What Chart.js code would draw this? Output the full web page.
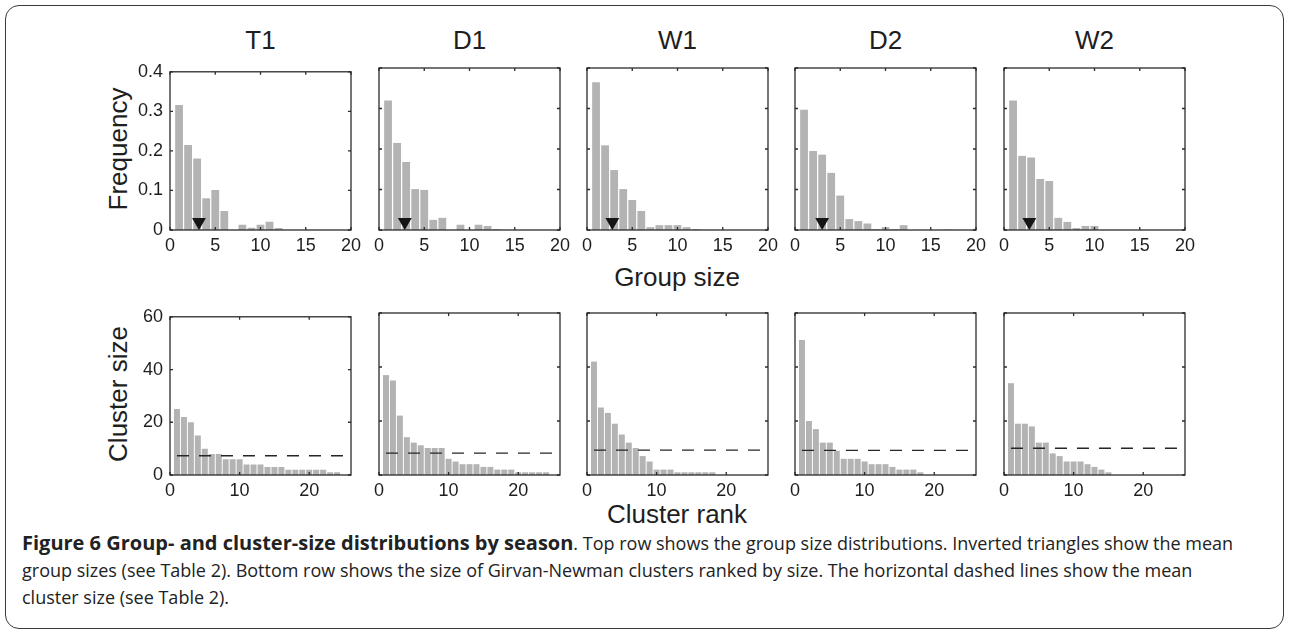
<!DOCTYPE html>
<html>
<head>
<meta charset="utf-8">
<script src="https://cdn.jsdelivr.net/npm/chart.js@4.4.1/dist/chart.umd.min.js"></script>
<style>
  body { margin: 0; background: #fff; }
  #fig { position: relative; width: 1289px; height: 634px; overflow: hidden;
         font-family: "Liberation Sans", Arial, sans-serif; color: #1e1e1e; }
  #frame { position: absolute; left: 5px; top: 5px; width: 1277px; height: 622px;
           border: 1.5px solid #3a3a3a; border-radius: 14px; }
  canvas { position: absolute; }
  .lbl { position: absolute; white-space: nowrap; font-size: 26px; transform: translate(-50%, -50%); }
  .rot { transform: translate(-50%, -50%) rotate(-90deg); }
  #caption { position: absolute; left: 22px; top: 529px; font-family: "Open Sans", sans-serif;
             font-size: 18px; line-height: 27px; color: #222; white-space: nowrap; }
  #caption b { font-size: 20px; }
</style>
</head>
<body>
<div id="fig">
  <div id="frame"></div>
  <div class="lbl rot" style="left:118px;top:149px">Frequency</div>
  <div class="lbl rot" style="left:118px;top:394px">Cluster size</div>
  <div class="lbl" style="left:677px;top:277px">Group size</div>
  <div class="lbl" style="left:677px;top:514px">Cluster rank</div>
  <div id="caption"><b>Figure 6 Group- and cluster-size distributions by season</b>. Top row shows the group size distributions. Inverted triangles show the mean<br>group sizes (see Table 2). Bottom row shows the size of Girvan-Newman clusters ranked by size. The horizontal dashed lines show the mean<br>cluster size (see Table 2).</div>
</div>
<script>
const seasons = ["T1", "D1", "W1", "D2", "W2"];

// top row: frequency of group size 1, 2, 3, ...
const freqT1 = [0.316, 0.215, 0.181, 0.080, 0.101, 0.048, 0, 0.013, 0.006, 0.013, 0.021, 0.005];
const freqD1 = [0.320, 0.215, 0.168, 0.101, 0.099, 0.025, 0.030, 0, 0.013, 0, 0.013, 0.010, 0.002];
const freqW1 = [0.365, 0.209, 0.148, 0.101, 0.074, 0.047, 0.007, 0.012, 0.012, 0.012, 0.007, 0.002];
const freqD2 = [0.297, 0.195, 0.186, 0.141, 0.085, 0.027, 0.022, 0.016, 0.002, 0.007, 0.002, 0.012, 0, 0, 0, 0, 0.001];
const freqW2 = [0.320, 0.183, 0.179, 0.126, 0.121, 0.030, 0.020, 0.005, 0.010, 0.010];
const meanGroup = [3.2, 2.85, 2.8, 3.0, 2.8];

// bottom row: cluster size by rank 1, 2, 3, ...
const clusterT1 = [25, 22, 20, 15, 10, 8, 8, 6, 6, 6, 4, 4, 4, 3, 3, 3, 2, 2, 2, 2, 2, 2, 1, 1];
const clusterD1 = [37, 35, 22, 14, 12, 11, 10, 10, 10, 6, 5, 4, 4, 4, 3, 3, 2, 2, 2, 1, 1, 1, 1, 1];
const clusterW1 = [42, 25, 23, 19, 15, 12, 10, 7, 5, 2, 2, 2, 1, 1, 1, 1, 1, 1];
const clusterD2 = [50, 20, 17, 12, 12, 9, 6, 6, 6, 5, 4, 4, 4, 3, 2, 2, 2, 1];
const clusterW2 = [34, 19, 19, 18, 12, 12, 8, 7, 5, 5, 5, 4, 3, 2, 1];
const meanCluster = [7.3, 8.1, 9.2, 9.1, 9.9];

const groupTicks = [0, 5, 10, 15, 20];
const freqTicks = [0, 0.1, 0.2, 0.3, 0.4];
const rankTicks = [0, 10, 20];
const sizeTicks = [0, 20, 40, 60];

const freqs = [freqT1, freqD1, freqW1, freqD2, freqW2];
const clusters = [clusterT1, clusterD1, clusterW1, clusterD2, clusterW2];

// layout
const axLeft = [170, 379, 587, 795, 1004];
const axW = 181, axH = 162;
const topRowY = 68, botRowY = 313;
const padL = 50, padT = 14, padR = 16, padB = 28;

const fig = document.getElementById("fig");
const tickFont = { family: "'Liberation Sans', Arial, sans-serif", size: 18 };

const axesBox = {
  id: "axesBox",
  afterDatasetsDraw(chart) {
    const { ctx, chartArea: a, scales: { x, y } } = chart;
    ctx.save();
    ctx.strokeStyle = "#2b2b2b";
    ctx.lineWidth = 1.3;
    ctx.beginPath();
    x.ticks.forEach(t => {
      const px = x.getPixelForValue(t.value);
      ctx.moveTo(px, a.bottom); ctx.lineTo(px, a.bottom - 3);
      ctx.moveTo(px, a.top); ctx.lineTo(px, a.top + 3);
    });
    y.ticks.forEach(t => {
      const py = y.getPixelForValue(t.value);
      ctx.moveTo(a.left, py); ctx.lineTo(a.left + 3, py);
      ctx.moveTo(a.right, py); ctx.lineTo(a.right - 3, py);
    });
    ctx.stroke();
    ctx.strokeRect(a.left, a.top, a.width, a.height);
    ctx.restore();
  }
};

function makePanel(left, top, showY, xMax, xTicks, yMax, yTicks, datasets) {
  const c = document.createElement("canvas");
  const w = axW + padL + padR, h = axH + padT + padB;
  c.width = w; c.height = h;
  c.style.left = (left - padL) + "px";
  c.style.top = (top - padT) + "px";
  c.style.width = w + "px";
  c.style.height = h + "px";
  fig.appendChild(c);

  new Chart(c, {
    type: "bar",
    data: { datasets },
    options: {
      responsive: false,
      animation: false,
      layout: { padding: { left: 0, top: padT, right: padR, bottom: 0 } },
      plugins: { legend: { display: false }, tooltip: { enabled: false } },
      scales: {
        x: {
          type: "linear", min: 0, max: xMax, offset: false,
          afterBuildTicks: s => { s.ticks = xTicks.map(v => ({ value: v })); },
          afterFit: s => { s.height = padB; },
          ticks: { callback: v => String(v), font: tickFont, color: "#1e1e1e", padding: 5, maxRotation: 0, autoSkip: false },
          grid: { display: false, drawTicks: false, offset: false },
          border: { display: false }
        },
        y: {
          min: 0, max: yMax,
          afterBuildTicks: s => { s.ticks = yTicks.map(v => ({ value: v })); },
          afterFit: s => { s.width = padL; },
          ticks: { display: showY, callback: v => String(v), font: tickFont, color: "#1e1e1e", padding: 7 },
          grid: { display: false, drawTicks: false },
          border: { display: false }
        }
      }
    },
    plugins: [axesBox]
  });
}

seasons.forEach((s, i) => {
  const t = document.createElement("div");
  t.className = "lbl";
  t.style.left = (axLeft[i] + axW / 2) + "px";
  t.style.top = "40px";
  t.textContent = s;
  fig.appendChild(t);

  makePanel(axLeft[i], topRowY, i === 0, 20, groupTicks, 0.4, freqTicks, [
    {
      type: "scatter",
      data: [{ x: meanGroup[i], y: 0.02 }],
      pointStyle: "triangle", rotation: 180, radius: 8, borderWidth: 0,
      backgroundColor: "#151515", order: 1
    },
    {
      data: freqs[i].map((v, k) => ({ x: k + 1, y: v })),
      backgroundColor: "#b3b3b3", barPercentage: 0.86, categoryPercentage: 1, order: 2
    }
  ]);

  makePanel(axLeft[i], botRowY, i === 0, 26, rankTicks, 60, sizeTicks, [
    {
      type: "line",
      data: [{ x: 1, y: meanCluster[i] }, { x: 26, y: meanCluster[i] }],
      borderColor: "#262626", borderWidth: 1.3, borderDash: [12, 10], pointRadius: 0, order: 1
    },
    {
      data: clusters[i].map((v, k) => ({ x: k + 1, y: v })),
      backgroundColor: "#b3b3b3", barPercentage: 0.86, categoryPercentage: 1, order: 2
    }
  ]);
});
</script>
</body>
</html>
